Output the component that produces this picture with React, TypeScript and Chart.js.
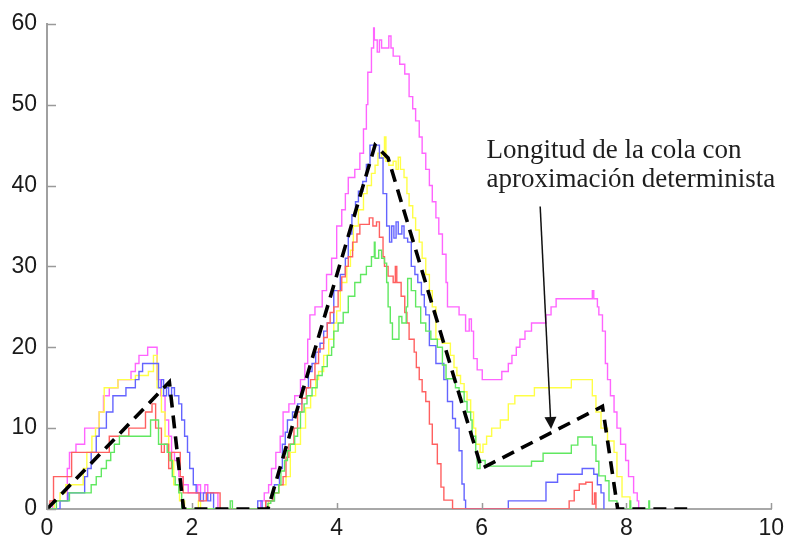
import React, { useEffect, useRef } from 'react';
import { Chart, registerables } from 'chart.js';

Chart.register(...registerables);

// ---------- axis ticks ----------
const xTicks = [0, 2, 4, 6, 8, 10];
const yTicks = [0, 10, 20, 30, 40, 50, 60];

// ---------- deterministic approximation (dashed) ----------
const detX = [0, 1.69, 1.885, 3.05, 4.53, 4.71, 6.0, 7.67, 7.88, 8.84];
const detY = [0, 15.7, 0, 0, 45, 43.4, 5, 12.7, 0, 0];

// ---------- simulated queue lengths (step traces) ----------
const magentaX = [0, 0.08, 0.28, 0.31, 0.40, 0.52, 0.72, 0.78, 0.86, 0.98, 1.16, 1.22, 1.27, 1.39, 1.52, 1.57, 1.63, 1.68, 1.72, 1.76, 1.82, 1.88, 1.95, 2.08, 2.12, 2.18, 2.22, 2.26, 2.36,
  2.95, 3.0, 3.06, 3.1, 3.16, 3.22, 3.26, 3.34, 3.42, 3.5, 3.56, 3.6, 3.63, 3.7, 3.8, 3.86, 3.93, 4.0, 4.07, 4.12, 4.16, 4.25, 4.32, 4.37, 4.41, 4.43, 4.48, 4.51, 4.52, 4.56, 4.59, 4.62, 4.72, 4.75, 4.78, 4.87, 4.94, 5.0, 5.05, 5.09, 5.14, 5.18, 5.23, 5.28, 5.32, 5.37, 5.41, 5.46, 5.51, 5.53, 5.69, 5.78, 5.83, 5.86, 5.89, 5.94, 6.01, 6.28, 6.37, 6.42, 6.48, 6.53, 6.6, 6.69, 6.89, 6.96, 7.03, 7.53, 7.55, 7.6, 7.62, 7.67, 7.71, 7.74, 7.78, 7.83, 7.87, 7.92, 7.99, 8.03, 8.1, 8.15, 8.17];
const magentaY = [0, 1, 5, 7, 8, 10, 12, 14, 15, 16, 17, 18, 19, 20, 16, 14, 11, 9, 7, 6, 4, 3, 2, 3, 2, 3, 2, 2, 0,
  1, 2, 3, 5, 7, 9, 12, 13, 14, 16, 18, 21, 24, 25, 27, 29, 31, 35, 37, 39, 41, 42, 44, 47, 50, 54, 57, 59.5, 58, 56.5, 58, 57, 58.5, 57, 56, 55, 53.8, 51, 49.5, 48, 46, 44, 42, 40, 38, 36, 34, 31.5, 28, 25, 24, 22, 23.5, 22, 18.6, 17.2, 16, 17, 18, 19, 20, 21, 22, 23, 24, 25, 26, 27, 26, 25, 24, 22, 18, 16, 14, 12, 10, 8, 6, 4, 2, 1, 0];

const yellowX = [0, 0.1, 0.18, 0.26, 0.5, 0.55, 0.62, 0.67, 0.72, 0.79, 0.98, 1.22, 1.4, 1.47, 1.52, 1.58, 1.63, 1.68, 1.75, 1.83, 1.9, 2.09, 2.12,
  3.06, 3.14, 3.2, 3.3, 3.36, 3.43, 3.5, 3.57, 3.64, 3.71, 3.75, 3.82, 3.89, 3.96, 4.0, 4.05, 4.14, 4.19, 4.23, 4.3, 4.37, 4.42, 4.48, 4.53, 4.57, 4.62, 4.66, 4.68, 4.72, 4.78, 4.82, 4.85, 4.88, 4.93, 4.97, 5.0, 5.05, 5.09, 5.14, 5.18, 5.23, 5.28, 5.32, 5.37, 5.46, 5.57, 5.62, 5.66, 5.71, 5.76, 5.8, 5.85, 5.89, 5.92, 5.98, 6.02, 6.07, 6.14, 6.26, 6.37, 6.46, 6.73, 7.24, 7.53, 7.58, 7.65, 7.74, 7.83, 7.87, 7.94, 8.05];
const yellowY = [0, 1, 2, 3, 5, 7, 9, 10, 12, 15, 16, 16.5, 17, 19, 15, 12, 9, 6, 3, 1, 0, 1, 0,
  1, 2, 3, 4, 7, 8, 10, 12.5, 14, 16, 17, 19, 21, 23, 24.5, 28, 30, 32, 35, 37, 39, 40, 41.5, 42.5, 44, 43.4, 46, 43, 42.5, 43, 42, 43.5, 42, 41, 39, 37.5, 36, 34.5, 33, 31, 29, 27, 25, 21, 20.5, 19, 17.5, 16.5, 15.5, 14.5, 13.5, 12, 10, 8, 7, 8, 9, 10, 11, 13, 14, 15, 16, 14, 12, 10, 8.4, 7, 4, 1.5, 0];

const blueX = [0, 0.18, 0.29, 0.52, 0.56, 0.61, 0.68, 0.72, 0.82, 0.91, 1.09, 1.22, 1.27, 1.32, 1.54, 1.58, 1.61, 1.65, 1.68, 1.72, 1.76, 1.82, 1.86, 1.9, 1.94, 1.97, 2.02, 2.06, 2.12, 2.16, 2.22, 2.26, 2.3,
  2.91, 2.97, 3.02, 3.14, 3.21, 3.25, 3.29, 3.32, 3.39, 3.46, 3.52, 3.61, 3.66, 3.71, 3.77, 3.82, 3.87, 3.96, 4.05, 4.12, 4.16, 4.21, 4.26, 4.3, 4.36, 4.41, 4.46, 4.59, 4.64, 4.69, 4.73, 4.76, 4.79, 4.82, 4.85, 4.9, 4.93, 4.98, 5.03, 5.08, 5.12, 5.17, 5.21, 5.23, 5.28, 5.37, 5.48, 5.53, 5.6, 5.64, 5.69, 5.73, 5.76, 5.78, 6.37, 6.89, 7.05, 7.39, 7.55, 7.6, 7.65, 7.69];
const blueY = [0, 1, 2, 4, 5, 7, 9, 10, 12, 14, 15, 16, 17, 18, 15, 16, 14, 15, 14, 15, 14, 13, 11, 9, 7, 5, 3, 2, 1, 2, 1, 2, 0,
  1, 0, 1, 3, 5, 8, 9.5, 11, 12, 13, 15, 17, 18, 19.4, 20.5, 22, 23, 27, 29, 31, 34, 36.4, 38, 39.3, 40.5, 42.6, 45, 43.4, 39, 35, 33, 35, 33.5, 35.5, 34, 35, 33.5, 33, 30, 29, 28, 26.5, 25, 24, 20.2, 18, 16, 13.3, 11.2, 10, 7.2, 3.1, 1.1, 0, 1, 3.3, 4.3, 5, 4.3, 3, 2, 0];

const redX = [0, 0.04, 0.09, 0.34, 0.86, 1.13, 1.36, 1.45, 1.5, 1.58, 1.62, 1.68, 1.72, 1.84, 1.88, 2.0, 2.1, 2.2, 2.39,
  3.02, 3.12, 3.2, 3.26, 3.3, 3.34, 3.41, 3.46, 3.52, 3.58, 3.64, 3.7, 3.75, 3.82, 3.87, 3.91, 3.96, 4.02, 4.07, 4.12, 4.16, 4.22, 4.28, 4.32, 4.45, 4.5, 4.55, 4.59, 4.64, 4.66, 4.71, 4.78, 4.81, 4.83, 4.89, 4.94, 4.97, 5.0, 5.07, 5.1, 5.14, 5.18, 5.23, 5.28, 5.32, 5.39, 5.44, 5.48, 5.6, 7.21, 7.28, 7.35, 7.44, 7.53, 7.56, 7.58];
const redY = [0, 1, 4, 7, 9, 10, 12, 13, 10, 7, 8, 5, 7, 4, 2, 2, 1, 2, 0,
  1, 2, 3, 4, 6.4, 8, 10, 12, 13.7, 15, 16, 18, 19.8, 21.2, 23, 24.3, 25, 27, 28.7, 30, 31.2, 33, 34, 35.2, 36, 35, 35.5, 33.6, 31.2, 30, 28.8, 28, 30, 28, 26.3, 24.3, 23, 21, 19.4, 17.5, 16, 14.5, 13.3, 10.5, 8, 5.6, 2.7, 1.1, 0, 1, 2.3, 3.1, 3.3, 0.6, 2, 0];

const greenX = [0, 0.13, 0.31, 0.61, 0.68, 0.75, 0.82, 0.88, 0.93, 1.0, 1.43, 1.54, 1.66, 1.7, 1.73, 1.77, 1.82, 1.86, 2.53, 2.56,
  3.05, 3.09, 3.14, 3.2, 3.23, 3.28, 3.32, 3.36, 3.42, 3.46, 3.5, 3.55, 3.59, 3.66, 3.73, 3.8, 3.87, 3.93, 3.96, 4.02, 4.09, 4.16, 4.25, 4.33, 4.41, 4.48, 4.52, 4.53, 4.58, 4.62, 4.66, 4.69, 4.71, 4.74, 4.77, 4.86, 4.9, 4.96, 4.98, 5.03, 5.09, 5.16, 5.23, 5.3, 5.39, 5.46, 5.51, 5.64, 5.69, 5.76, 5.8, 5.85, 5.87, 5.92, 5.94, 5.98, 6.05, 6.69, 6.85, 7.24, 7.33, 7.53, 7.58, 7.62, 7.71, 7.76, 7.87, 8.05, 8.06, 8.31, 8.32];
const greenY = [0, 1, 2, 3, 4, 5, 6, 7, 8, 9, 11, 8, 7, 6, 4, 3, 2, 0, 1, 0,
  0.7, 1, 2, 3, 4.7, 6, 7.2, 8, 9, 10, 12, 13, 14, 15, 16.5, 17.6, 19, 20, 22, 23, 24.3, 26.3, 28, 29, 30, 31.2, 33, 31, 32, 31, 30.4, 28, 25, 23, 21, 23.8, 23, 25, 28.5, 27, 25, 23, 22, 21, 20, 17.8, 16.1, 15, 14.5, 13.3, 12, 11, 9, 7, 5, 6, 5.3, 5.9, 6.9, 7.9, 8.9, 7.9, 5.9, 4.1, 3.5, 1, 0, 1, 0, 1, 0];

// ---------- annotation ----------
const annotationLines = ['Longitud de la cola con', 'aproximación determinista'];
const annotationX = 6.07;
const annotationBaselines = [43.4, 39.8];
const arrowFrom = { x: 6.81, y: 37.4 };
const arrowTo = { x: 6.96, y: 9.9 };

const toPoints = (xs: number[], ys: number[]) => xs.map((x, i) => ({ x, y: ys[i] }));

const decorPlugin = {
  id: 'decor',
  afterDraw(chart: any) {
    const { ctx, chartArea, scales } = chart;
    const xs = scales.x;
    const ys = scales.y;
    ctx.save();
    // inward tick marks
    ctx.strokeStyle = '#9a9a9a';
    ctx.lineWidth = 1.5;
    yTicks.forEach((v) => {
      const py = Math.round(ys.getPixelForValue(v)) + 0.5;
      ctx.beginPath();
      ctx.moveTo(chartArea.left, py);
      ctx.lineTo(chartArea.left + 9, py);
      ctx.stroke();
    });
    xTicks.forEach((v) => {
      const px = Math.round(xs.getPixelForValue(v)) + 0.5;
      ctx.beginPath();
      ctx.moveTo(px, chartArea.bottom);
      ctx.lineTo(px, chartArea.bottom - 6);
      ctx.stroke();
    });
    // annotation text
    ctx.fillStyle = '#1e1e1e';
    ctx.font = '27px "Liberation Serif", "DejaVu Serif", serif';
    ctx.textAlign = 'left';
    ctx.textBaseline = 'alphabetic';
    annotationLines.forEach((t, i) => {
      ctx.fillText(t, xs.getPixelForValue(annotationX), ys.getPixelForValue(annotationBaselines[i]));
    });
    // arrow
    const ax = xs.getPixelForValue(arrowFrom.x);
    const ay = ys.getPixelForValue(arrowFrom.y);
    const bx = xs.getPixelForValue(arrowTo.x);
    const by = ys.getPixelForValue(arrowTo.y);
    const ang = Math.atan2(by - ay, bx - ax);
    const headLen = 12;
    const headHalf = 6;
    const baseX = bx - headLen * Math.cos(ang);
    const baseY = by - headLen * Math.sin(ang);
    ctx.strokeStyle = '#111';
    ctx.lineWidth = 1.5;
    ctx.beginPath();
    ctx.moveTo(ax, ay);
    ctx.lineTo(baseX, baseY);
    ctx.stroke();
    ctx.fillStyle = '#111';
    ctx.beginPath();
    ctx.moveTo(bx, by);
    ctx.lineTo(baseX + headHalf * Math.sin(ang), baseY - headHalf * Math.cos(ang));
    ctx.lineTo(baseX - headHalf * Math.sin(ang), baseY + headHalf * Math.cos(ang));
    ctx.closePath();
    ctx.fill();
    ctx.restore();
  },
};

export default function App() {
  const ref = useRef<HTMLCanvasElement>(null);

  useEffect(() => {
    const canvas = ref.current;
    if (!canvas) return;
    const stepDs = (xs: number[], ys: number[], color: string) => ({
      data: toPoints(xs, ys),
      borderColor: color,
      backgroundColor: color,
      borderWidth: 1.4,
      pointRadius: 0,
      stepped: true,
      fill: false,
    });
    const tickFont = { family: '"Liberation Sans", Arial, Helvetica, sans-serif', size: 23 };
    const chart = new Chart(canvas, {
      type: 'line',
      data: {
        datasets: [
          {
            data: toPoints(detX, detY),
            borderColor: '#000',
            borderWidth: 3.6,
            borderDash: [13, 8],
            pointRadius: 0,
            fill: false,
            tension: 0,
          } as any,
          stepDs(greenX, greenY, 'rgb(96,232,96)'),
          stepDs(redX, redY, 'rgb(255,96,96)'),
          stepDs(blueX, blueY, 'rgb(100,100,255)'),
          stepDs(yellowX, yellowY, 'rgb(255,255,70)'),
          stepDs(magentaX, magentaY, 'rgb(255,100,255)'),
        ],
      },
      options: {
        responsive: false,
        animation: false,
        events: [],
        layout: {
          autoPadding: false,
          padding: { left: 0, top: 17, right: 10, bottom: 0 },
        } as any,
        plugins: {
          legend: { display: false },
          tooltip: { enabled: false },
        },
        scales: {
          x: {
            type: 'linear',
            min: 0,
            max: 10,
            afterFit: (s: any) => { s.height = 29; },
            afterBuildTicks: (s: any) => { s.ticks = xTicks.map((v) => ({ value: v })); },
            grid: { display: true, drawOnChartArea: false, drawTicks: false },
            border: { display: true, color: '#a8a8a8', width: 2 },
            ticks: { padding: 6, color: '#1a1a1a', font: tickFont, maxRotation: 0, autoSkip: false },
          },
          y: {
            type: 'linear',
            min: 0,
            max: 60,
            afterFit: (s: any) => { s.width = 47; },
            afterBuildTicks: (s: any) => { s.ticks = yTicks.map((v) => ({ value: v })); },
            grid: { display: true, drawOnChartArea: false, drawTicks: false },
            border: { display: true, color: '#a0a0a0', width: 2 },
            ticks: { padding: 10, color: '#1a1a1a', font: tickFont, autoSkip: false },
          },
        },
      } as any,
      plugins: [decorPlugin],
    });
    return () => chart.destroy();
  }, []);

  return (
    <canvas
      ref={ref}
      width={790}
      height={538}
      style={{ position: 'absolute', left: 0, top: 0, width: 790, height: 538, display: 'block', background: '#fff' }}
    />
  );
}
